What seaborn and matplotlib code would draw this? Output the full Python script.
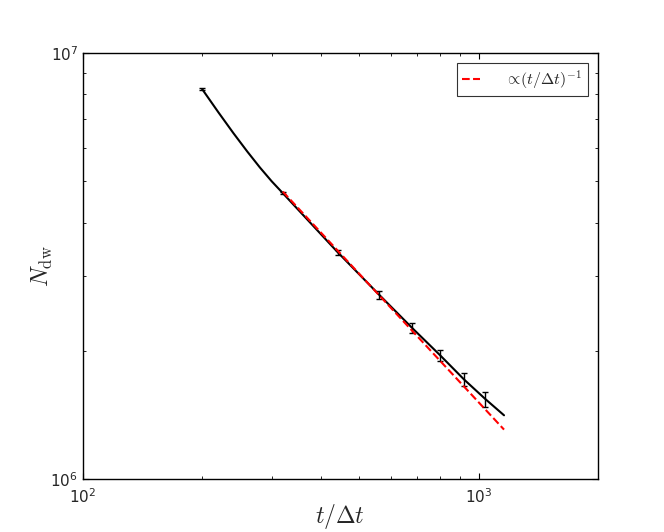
import seaborn as sns
import matplotlib.pyplot as plt
import pandas as pd
from matplotlib.ticker import NullFormatter
from matplotlib.font_manager import FontProperties

# domain wall count vs time
t_line = [200, 220, 240, 260, 280, 300, 320, 440, 560, 680, 800, 920, 1040, 1160]
n_line = [8.24e6, 7.26e6, 6.49e6, 5.88e6, 5.39e6, 5.00e6, 4.69e6, 3.41e6,
          2.71e6, 2.26e6, 1.95e6, 1.71e6, 1.54e6, 1.41e6]

# points carrying error bars
t_err = [200, 320, 440, 560, 680, 800, 920, 1040]
n_err = [8.24e6, 4.69e6, 3.41e6, 2.71e6, 2.26e6, 1.95e6, 1.71e6, 1.54e6]
n_sig = [35e3, 30e3, 46e3, 58e3, 63e3, 62e3, 60e3, 62e3]

# power-law guide  ~ (t/dt)^-1
t_fit = [320, 1160]
n_fit = [4.73e6, 1.305e6]

sns.set_style("ticks", {"xtick.direction": "in", "ytick.direction": "in",
                        "xtick.top": True, "ytick.right": True,
                        "axes.edgecolor": "black"})
plt.rcParams['font.family'] = ['DejaVu Sans']
plt.rcParams['mathtext.fontset'] = 'dejavusans'

fig = plt.figure(figsize=(6.64, 5.32), dpi=100)
ax = fig.add_axes([0.125, 0.1, 0.775, 0.8])

df = pd.DataFrame({"t": t_line, "n": n_line})
sns.lineplot(data=df, x="t", y="n", color="black", lw=1.5, sort=False, ax=ax)
ax.errorbar(t_err, n_err, yerr=n_sig, fmt="none", ecolor="black",
            elinewidth=1, capsize=2.5, capthick=1)

sns.lineplot(x=t_fit, y=n_fit, color="red", lw=1.5, linestyle="--",
             label=r"$\propto\!(t/\Delta t)^{-1}$", ax=ax)

ax.set_xscale("log")
ax.set_yscale("log")
ax.set_xlim(100, 2000)
ax.set_ylim(1e6, 1e7)
ax.xaxis.set_minor_formatter(NullFormatter())
ax.yaxis.set_minor_formatter(NullFormatter())
ax.tick_params(which="major", length=4, width=0.8, labelsize=11, color="black")
ax.tick_params(which="minor", length=2, width=0.6, color="black")
ax.tick_params(axis="x", which="major", pad=6)

ax.set_xlabel(r"$t/\Delta t$", fontsize=17, math_fontfamily="cm")
ax.set_ylabel(r"$N_{\rm dw}$", fontsize=17, math_fontfamily="cm")
ax.xaxis.set_label_coords(0.5, -0.055)
ax.yaxis.set_label_coords(-0.055, 0.5)

leg = ax.legend(loc="upper right", frameon=True, fancybox=False,
                edgecolor="black", prop=FontProperties(size=11.5, math_fontfamily="cm"),
                handlelength=1.1, handletextpad=1.6, borderpad=0.35,
                borderaxespad=0.6)
leg.get_frame().set_linewidth(0.8)
for s in ax.spines.values():
    s.set_linewidth(1.0)

fig.savefig("out.png", dpi=100)
